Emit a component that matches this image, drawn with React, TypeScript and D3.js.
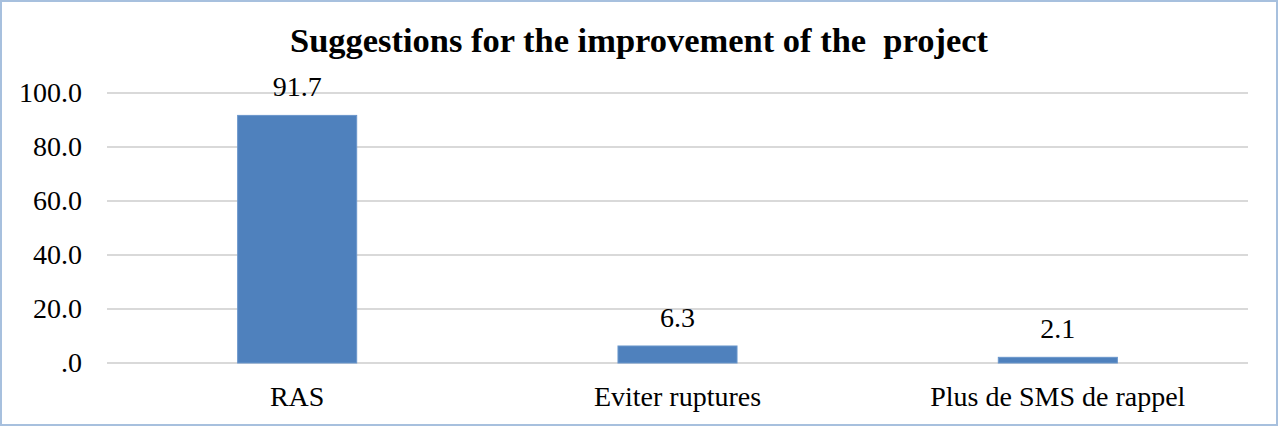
import React from "react";
import * as d3 from "d3";

const categories = ["RAS", "Eviter ruptures", "Plus de SMS de rappel"];
const values = [91.7, 6.3, 2.1];
const valueLabels = ["91.7", "6.3", "2.1"];
const tickValues = [0, 20, 40, 60, 80, 100];
const tickLabels = [".0", "20.0", "40.0", "60.0", "80.0", "100.0"];
const title = "Suggestions for the improvement of the  project";

const W = 1278;
const H = 426;
const plot = { left: 107, right: 1248, top: 93, bottom: 363 };
const font = "'Liberation Serif', 'Times New Roman', serif";

export default function App() {
  const x = d3
    .scaleBand<string>()
    .domain(categories)
    .range([plot.left, plot.right])
    .padding(0);
  const y = d3.scaleLinear().domain([0, 100]).range([plot.bottom, plot.top]);
  const barW = x.bandwidth() * 0.313;

  return (
    <div style={{ position: "fixed", left: 0, top: 0 }}>
      <svg width={W} height={H} style={{ display: "block" }}>
        <rect x={0} y={0} width={W} height={H} fill="#ffffff" />
        <rect
          x={1}
          y={1}
          width={W - 2}
          height={H - 2}
          fill="none"
          stroke="#a7c0de"
          strokeWidth={2}
        />
        <text
          x={W / 2}
          y={52}
          textAnchor="middle"
          fontFamily={font}
          fontWeight="bold"
          fontSize={34}
          textLength={698}
          lengthAdjust="spacingAndGlyphs"
          fill="#000"
          style={{ whiteSpace: "pre" }}
        >
          {title}
        </text>
        {tickValues.map((t, i) => (
          <g key={t}>
            <line
              x1={plot.left}
              x2={plot.right}
              y1={y(t)}
              y2={y(t)}
              stroke="#d9d9d9"
              strokeWidth={2}
            />
            <text
              x={82}
              y={y(t) + 9}
              textAnchor="end"
              fontFamily={font}
              fontSize={28}
              fill="#000"
            >
              {tickLabels[i]}
            </text>
          </g>
        ))}
        {categories.map((c, i) => {
          const cx = (x(c) as number) + x.bandwidth() / 2;
          return (
            <g key={c}>
              <rect
                x={cx - barW / 2}
                y={y(values[i])}
                width={barW}
                height={y(0) - y(values[i])}
                fill="#4f81bd"
                stroke="#6a96cb"
                strokeWidth={1}
              />
              <text
                x={cx}
                y={y(values[i]) - 19}
                textAnchor="middle"
                fontFamily={font}
                fontSize={28}
                fill="#000"
              >
                {valueLabels[i]}
              </text>
              <text
                x={cx}
                y={406}
                textAnchor="middle"
                fontFamily={font}
                fontSize={28}
                fill="#000"
              >
                {c}
              </text>
            </g>
          );
        })}
      </svg>
    </div>
  );
}
